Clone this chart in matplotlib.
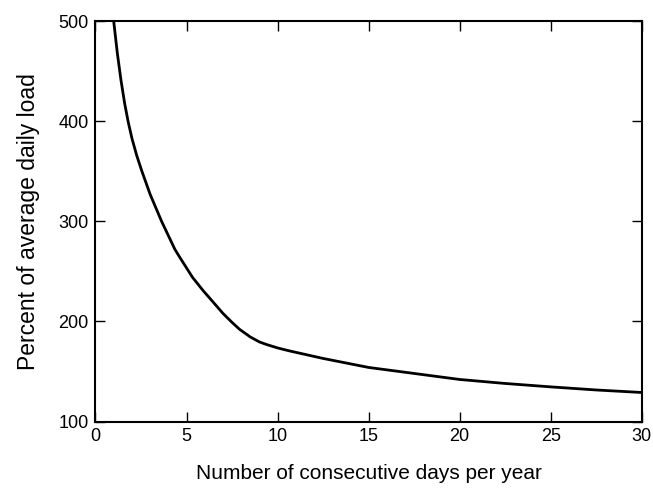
import matplotlib
matplotlib.use('Agg')
import matplotlib.pyplot as plt
import numpy as np

# values
days = [1.0, 1.2, 1.4, 1.6, 1.8, 2.0, 2.26, 2.53, 3.0, 3.63, 4.36, 4.63,
        5.33, 5.9, 6.5, 7.0, 7.5, 7.92, 8.5, 9.0, 9.38, 10.0, 10.66,
        12.5, 15.0, 17.5, 20.0, 22.5, 25.0, 27.5, 30.0]
load_pct = [500, 468, 441, 418, 399, 383, 366, 351, 327, 300, 272, 264,
            244, 231, 218.5, 208, 199, 192, 184.5, 179.5, 177, 173.5, 170.5,
            163, 154, 148, 142, 138, 134.6, 131.5, 129]

x_ticks = [0, 5, 10, 15, 20, 25, 30]
y_ticks = [100, 200, 300, 400, 500]

plt.rcParams['font.family'] = ['Liberation Sans', 'DejaVu Sans']

fig = plt.figure(figsize=(6.53, 4.93), dpi=100)
ax = fig.add_axes([0.1462, 0.145, 0.8365, 0.8124])

ax.plot(days, load_pct, '-', color='black', linewidth=2.0,
        solid_joinstyle='round')

ax.set_xlim(0, 30)
ax.set_ylim(100, 500)
ax.set_xticks(x_ticks)
ax.set_yticks(y_ticks)
ax.tick_params(direction='in', length=7, width=1.0, top=True, right=True,
               labelsize=13, pad=5, colors='black')
for s in ax.spines.values():
    s.set_linewidth(1.5)

ax.set_xlabel('Number of consecutive days per year', fontsize=15, labelpad=13)
ax.set_ylabel('Percent of average daily load', fontsize=16.5, labelpad=13)

fig.savefig('out.png', dpi=100)
